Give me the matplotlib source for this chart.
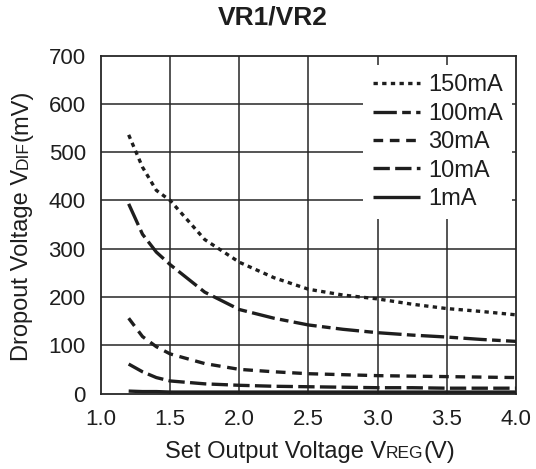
import matplotlib
matplotlib.use("Agg")
import matplotlib.pyplot as plt
from matplotlib.transforms import IdentityTransform

plt.rcParams['font.family'] = ['Liberation Sans', 'DejaVu Sans']

# ---- data ----
v_reg = [1.2, 1.3, 1.4, 1.5, 1.75, 2.0, 2.25, 2.5, 2.75, 3.0, 3.25, 3.5, 3.75, 4.0]
drop_150mA = [536, 469, 421, 400, 319, 272, 240, 216, 204, 196, 185, 176, 170, 163]
drop_100mA = [393, 330, 293, 267, 210, 174, 156, 142, 133, 126, 121, 117, 112, 108]
drop_30mA = [156, 118, 97, 82, 62, 50, 45, 41, 39, 37, 36, 35, 34, 33]
drop_10mA = [61, 45, 33, 26, 20, 17, 15, 14, 13, 12, 12, 11, 11, 11]
drop_1mA = [5, 4, 4, 3, 3, 3, 3, 3, 3, 3, 3, 3, 3, 3]
series_labels = ["150mA", "100mA", "30mA", "10mA", "1mA"]
x_ticks = [1.0, 1.5, 2.0, 2.5, 3.0, 3.5, 4.0]
y_ticks = [0, 100, 200, 300, 400, 500, 600, 700]

W, H = 536, 469
fig = plt.figure(figsize=(W / 100, H / 100), dpi=100)
L, R, T, B = 101, 516, 55.7, 393.5
ax = fig.add_axes([L / W, 1 - B / H, (R - L) / W, (B - T) / H])

ink = '#1e1e1e'
lw = 2.4
styles = [(0, (1.3, 1.3)), (0, (7.0, 1.6, 2.6, 1.6)), (0, (2.9, 2.0)), (0, (4.9, 1.6)), '-']
data = [drop_150mA, drop_100mA, drop_30mA, drop_10mA, drop_1mA]
for ys, ls, lab in zip(data, styles, series_labels):
    ax.plot(v_reg, ys, color=ink, lw=lw, linestyle=ls, label=lab,
            dash_capstyle='butt', solid_capstyle='butt', zorder=3)

# grid as plain lines (so the legend can cover them)
for xv in x_ticks[1:-1]:
    ax.axvline(xv, color='#262626', lw=1.1, zorder=1)
for yv in y_ticks[1:-1]:
    ax.axhline(yv, color='#262626', lw=1.1, zorder=1)

ax.set_xlim(1.0, 4.0)
ax.set_ylim(0, 700)
ax.set_xticks(x_ticks)
ax.set_xticklabels([f"{t:.1f}" for t in x_ticks])
ax.set_yticks(y_ticks)
ax.tick_params(direction='in', length=0, labelsize=16, labelcolor=ink, pad=11)
for sp in ax.spines.values():
    sp.set_linewidth(1.3)
    sp.set_color('#262626')

leg = ax.legend(loc='upper right', bbox_to_anchor=((512 - L) / (R - L), (B - 65) / (B - T)),
                fontsize=17, handlelength=2.0, handletextpad=0.34, labelspacing=0.27,
                frameon=True, fancybox=False, borderpad=0.4, borderaxespad=0)
leg.get_frame().set_facecolor('white')
leg.get_frame().set_edgecolor('none')
leg.get_frame().set_alpha(1)
leg.set_zorder(5)
for t in leg.get_texts():
    t.set_color(ink)

fig.text(273 / W, 1 - 17.5 / H, "VR1/VR2", ha='center', va='center',
         fontsize=19, fontweight='bold', color=ink)

# composed labels with small-cap style suffixes
fig.canvas.draw()
renderer = fig.canvas.get_renderer()


def chain(parts, x0, y0, rotation=0):
    texts = []
    for s, fs in parts:
        t = fig.text(0, 0, s, fontsize=fs, color=ink, rotation=rotation,
                     rotation_mode='anchor', ha='left', va='baseline',
                     transform=IdentityTransform())
        texts.append(t)
    lens = []
    for t in texts:
        e = t.get_window_extent(renderer)
        lens.append(e.height if rotation else e.width)
    total = sum(lens)
    pos = -total / 2
    for t, ln in zip(texts, lens):
        if rotation:
            t.set_position((x0, y0 + pos))
        else:
            t.set_position((x0 + pos, y0))
        pos += ln
    return texts

chain([("Set Output Voltage V", 17), ("REG", 12.5), ("(V)", 17)], 310, H - 457.5)
chain([("Dropout Voltage V", 17), ("DIF", 12.5), ("(mV)", 17)], 28, H - 225, rotation=90)

fig.savefig("out.png", dpi=100)
